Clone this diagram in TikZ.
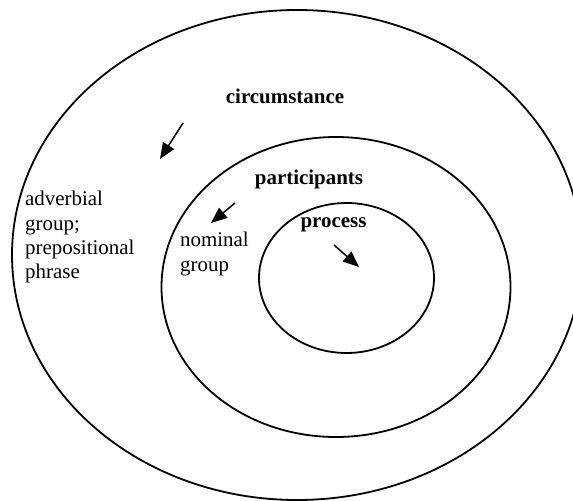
\documentclass[tikz,border=0pt]{standalone}
\usepackage{fontspec}
\setmainfont{Liberation Serif}
\usetikzlibrary{arrows.meta}
\begin{document}
\begin{tikzpicture}[x=1bp,y=-1bp,
  ring/.style={draw=black,line width=1.8bp},
  lbl/.style={inner sep=0pt,font=\fontsize{21}{24.5}\selectfont},
  blbl/.style={lbl,font=\fontsize{21}{24.5}\selectfont\bfseries},
  pointer/.style={line width=1.5bp,-{Triangle[length=16bp,width=13bp]}}]
\useasboundingbox (0,0) rectangle (573,501);
% rings
\draw[ring] (297,255) ellipse [x radius=285, y radius=245];
\draw[ring] (336,287) ellipse [x radius=174.5, y radius=150];
\draw[ring] (346.5,278) ellipse [x radius=87.5, y radius=75];
% labels
\node[blbl,anchor=base] (circ) at (285,104) {circumstance};
\node[blbl,anchor=base] (part) at (309,185) {participants};
\node[blbl,anchor=base] (proc) at (333.5,228) {process};
\node[lbl,anchor=north west,align=left] (adv) at (25,191) {adverbial\\group;\\prepositional\\phrase};
\node[lbl,anchor=north west,align=left] (nom) at (180,232) {nominal\\group};
% arrows
\coordinate (c1) at (183,123); \coordinate (c2) at (160,159);
\coordinate (p1) at (235,203); \coordinate (p2) at (211,223);
\coordinate (r1) at (334,245); \coordinate (r2) at (359,267);
\draw[pointer] (c1) -- (c2);
\draw[pointer] (p1) -- (p2);
\draw[pointer] (r1) -- (r2);
\end{tikzpicture}
\end{document}
